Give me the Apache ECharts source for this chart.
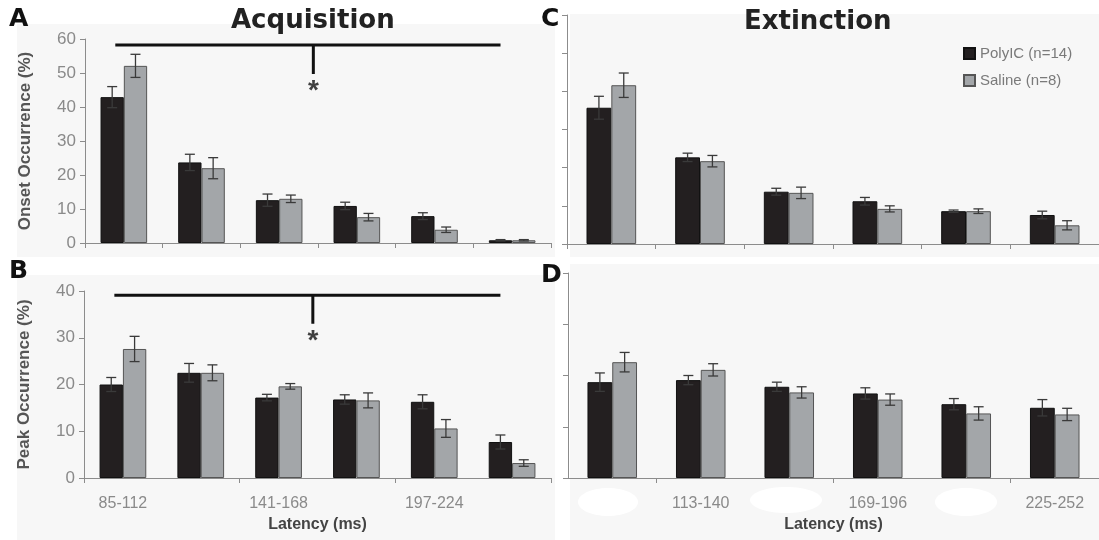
<!DOCTYPE html>
<html><head><meta charset="utf-8">
<script src="https://cdn.jsdelivr.net/npm/echarts@6/dist/echarts.min.js"></script>
<style>html,body{margin:0;padding:0;background:#fff}#c{width:1099px;height:540px}</style>
</head><body><div id="c"></div>
<script>
const categories = ['85-112','113-140','141-168','169-196','197-224','225-252'];
const seriesNames = ['PolyIC (n=14)', 'Saline (n=8)'];
// Acquisition - onset (panel A)
const acqOnsetPoly    = [42.9, 23.7, 12.6, 10.9, 7.9, 0.8];
const acqOnsetPolyErr = [3.1, 2.4, 1.8, 1.1, 1.0, 0.2];
const acqOnsetSal     = [52.1, 22.0, 13.0, 7.6, 3.9, 0.8];
const acqOnsetSalErr  = [3.4, 3.1, 1.1, 1.1, 0.8, 0.2];
// Acquisition - peak (panel B)
const acqPeakPoly    = [20.0, 22.5, 17.2, 16.8, 16.3, 7.7];
const acqPeakPolyErr = [1.5, 2.0, 0.7, 1.0, 1.5, 1.5];
const acqPeakSal     = [27.6, 22.5, 19.6, 16.6, 10.6, 3.2];
const acqPeakSalErr  = [2.7, 1.7, 0.6, 1.6, 1.9, 0.7];
// Extinction - onset (panel C)
const extOnsetPoly    = [35.7, 22.7, 13.7, 11.2, 8.6, 7.6];
const extOnsetPolyErr = [3.0, 1.1, 0.9, 1.0, 0.3, 1.0];
const extOnsetSal     = [41.6, 21.7, 13.4, 9.2, 8.6, 4.9];
const extOnsetSalErr  = [3.2, 1.5, 1.5, 0.8, 0.6, 1.2];
// Extinction - peak (panel D)
const extPeakPoly    = [18.7, 19.1, 17.8, 16.5, 14.4, 13.7];
const extPeakPolyErr = [1.8, 0.9, 0.9, 1.1, 1.1, 1.6];
const extPeakSal     = [22.6, 21.1, 16.7, 15.3, 12.6, 12.4];
const extPeakSalErr  = [1.9, 1.2, 1.1, 1.1, 1.3, 1.2];
// significance brackets: [barLevel, fromX, toX, midX, stemEnd, starY] in data units (x in category units 0..6)
const sigOnset = [58.2, 0.39, 5.35, 2.94, 49.7, 44.6];
const sigPeak  = [39.1, 0.39, 5.35, 2.94, 33.0, 29.2];

const POLY = '#231f20', SAL = '#a3a6a9';
const gapAB = '40%', gapCD = '44%';
const gapNum = {[gapAB]:0.40, [gapCD]:0.44};
const F = 'Liberation Sans, Arial, sans-serif';

const grids = [
  {left:85, top:39, width:466, height:204},
  {left:84, top:291, width:467, height:187},
  {left:567, top:15, width:532, height:229},
  {left:568, top:273, width:531, height:205}
];
const axisLine = {show:true, lineStyle:{color:'#8c8c8c', width:1}};
function catAxis(gi, labelMode){
  return {type:'category', gridIndex:gi, data:categories,
    axisLine:axisLine, axisTick:{show:true, length:5, lineStyle:{color:'#8c8c8c'}},
    axisLabel: labelMode===null ? {show:false} : {show:true, color:'#8a8a8a', fontSize:16, fontFamily:F, margin:18,
      interval:(i)=> i%2===labelMode},
    name: labelMode===null ? '' : 'Latency (ms)', nameLocation:'middle', nameGap:39,
    nameTextStyle:{color:'#444', fontSize:16, fontWeight:'bold', fontFamily:F}};
}
function valAxis(gi, max, showLabel, name){
  return {type:'value', gridIndex:gi, min:0, max:max, interval:10,
    axisLine:axisLine, axisTick:{show:true, length:5, lineStyle:{color:'#8c8c8c'}},
    splitLine:{show:false},
    axisLabel:{show:showLabel, color:'#8a8a8a', fontSize:17, fontFamily:F, margin:9},
    name:name, nameLocation:'middle', nameGap:51,
    nameTextStyle:{color:'#555', fontSize:17, fontWeight:'bold', fontFamily:F}};
}
function bar(name, xi, vals, color, border, gap){
  return {type:'bar', name:name, xAxisIndex:xi, yAxisIndex:xi, data:vals, barGap:'0%', barCategoryGap:gap,
    itemStyle:{color:color, borderColor:border, borderWidth:1}, silent:true, z:2};
}
function err(xi, vals, errs, side, gap){
  const g = gapNum[gap];
  return {type:'custom', xAxisIndex:xi, yAxisIndex:xi, z:5, silent:true,
    encode:{x:0, y:[1,2]},
    data: vals.map((v,i)=>[i, v-errs[i], v+errs[i]]),
    renderItem(params, api){
      const band = api.size([1,0])[0];
      const bw = band*(1-g)/2;
      const lo = api.coord([api.value(0), api.value(1)]);
      const hi = api.coord([api.value(0), api.value(2)]);
      const x = lo[0] + side*bw/2;
      const cap = 5;
      const st = {stroke:'#3a3a3a', lineWidth:1.3};
      return {type:'group', children:[
        {type:'line', shape:{x1:x,y1:lo[1],x2:x,y2:hi[1]}, style:st},
        {type:'line', shape:{x1:x-cap,y1:hi[1],x2:x+cap,y2:hi[1]}, style:st},
        {type:'line', shape:{x1:x-cap,y1:lo[1],x2:x+cap,y2:lo[1]}, style:st}
      ]};
    }};
}
function bracket(xi, yi, s){
  return [
    {type:'line', xAxisIndex:xi, yAxisIndex:yi, data:[[s[1],s[0]],[s[2],s[0]]], symbol:'none', silent:true,
      lineStyle:{color:'#111', width:3}, z:6},
    {type:'line', xAxisIndex:xi, yAxisIndex:yi, data:[[s[3],s[0]],[s[3],s[4]]], symbol:'none', silent:true,
      lineStyle:{color:'#111', width:3}, z:6},
    {type:'scatter', xAxisIndex:xi, yAxisIndex:yi, data:[[s[3],s[5]]], symbolSize:1, silent:true,
      itemStyle:{color:'rgba(0,0,0,0)'},
      label:{show:true, formatter:'*', position:'inside', color:'#111', fontSize:28, fontWeight:'bold', fontFamily:F}, z:6}
  ];
}

const option = {
  backgroundColor:'#ffffff',
  animation:false,
  grid: grids,
  xAxis: [
    catAxis(0, null), catAxis(1, 0), catAxis(2, null), catAxis(3, 1),
    {type:'value', gridIndex:0, min:0, max:6, show:false},
    {type:'value', gridIndex:1, min:0, max:6, show:false}
  ],
  yAxis: [
    valAxis(0, 60, true, 'Onset Occurrence (%)'),
    valAxis(1, 40, true, 'Peak Occurrence (%)'),
    valAxis(2, 60, false, ''),
    valAxis(3, 40, false, '')
  ],
  legend:{data:seriesNames, orient:'vertical', left:958, top:41, itemGap:12, itemWidth:11, itemHeight:11,
    icon:'rect', textStyle:{color:'#7a7a7a', fontSize:15, fontFamily:F}, selectedMode:false},
  graphic:[
    {type:'rect', z:-10, shape:{x:17,y:24,width:538,height:233}, style:{fill:'#f7f7f7'}},
    {type:'rect', z:-10, shape:{x:17,y:275,width:538,height:265}, style:{fill:'#f7f7f7'}},
    {type:'rect', z:-10, shape:{x:570,y:14,width:529,height:243}, style:{fill:'#f7f7f7'}},
    {type:'rect', z:-10, shape:{x:570,y:264,width:529,height:276}, style:{fill:'#f7f7f7'}},
    {type:'ellipse', z:-5, shape:{cx:608,cy:502,rx:30,ry:14}, style:{fill:'#ffffff'}},
    {type:'ellipse', z:-5, shape:{cx:786,cy:500,rx:36,ry:13}, style:{fill:'#ffffff'}},
    {type:'ellipse', z:-5, shape:{cx:966,cy:502,rx:31,ry:14}, style:{fill:'#ffffff'}},
    {type:'text', z:10, left:9, top:7, style:{text:'A', font:'bold 25px DejaVu Sans', fill:'#111'}},
    {type:'text', z:10, left:9, top:259, style:{text:'B', font:'bold 25px DejaVu Sans', fill:'#111'}},
    {type:'text', z:10, left:541, top:7, style:{text:'C', font:'bold 25px DejaVu Sans', fill:'#111'}},
    {type:'text', z:10, left:541, top:263, style:{text:'D', font:'bold 25px DejaVu Sans', fill:'#111'}},
    {type:'text', z:10, left:231, top:8, style:{text:'Acquisition', font:'bold 26px DejaVu Sans', fill:'#222'}},
    {type:'text', z:10, left:744, top:9, style:{text:'Extinction', font:'bold 26px DejaVu Sans', fill:'#222'}}
  ],
  series: [
    bar(seriesNames[0], 0, acqOnsetPoly, POLY, '#111', gapAB),
    bar(seriesNames[1], 0, acqOnsetSal, SAL, '#555', gapAB),
    err(0, acqOnsetPoly, acqOnsetPolyErr, -1, gapAB),
    err(0, acqOnsetSal, acqOnsetSalErr, 1, gapAB),
    bar(seriesNames[0], 1, acqPeakPoly, POLY, '#111', gapAB),
    bar(seriesNames[1], 1, acqPeakSal, SAL, '#555', gapAB),
    err(1, acqPeakPoly, acqPeakPolyErr, -1, gapAB),
    err(1, acqPeakSal, acqPeakSalErr, 1, gapAB),
    bar(seriesNames[0], 2, extOnsetPoly, POLY, '#111', gapCD),
    bar(seriesNames[1], 2, extOnsetSal, SAL, '#555', gapCD),
    err(2, extOnsetPoly, extOnsetPolyErr, -1, gapCD),
    err(2, extOnsetSal, extOnsetSalErr, 1, gapCD),
    bar(seriesNames[0], 3, extPeakPoly, POLY, '#111', gapCD),
    bar(seriesNames[1], 3, extPeakSal, SAL, '#555', gapCD),
    err(3, extPeakPoly, extPeakPolyErr, -1, gapCD),
    err(3, extPeakSal, extPeakSalErr, 1, gapCD),
    ...bracket(4, 0, sigOnset),
    ...bracket(5, 1, sigPeak)
  ]
};
const chart = echarts.init(document.getElementById('c'), null, {renderer:'canvas'});
chart.setOption(option);
</script>
</body></html>
